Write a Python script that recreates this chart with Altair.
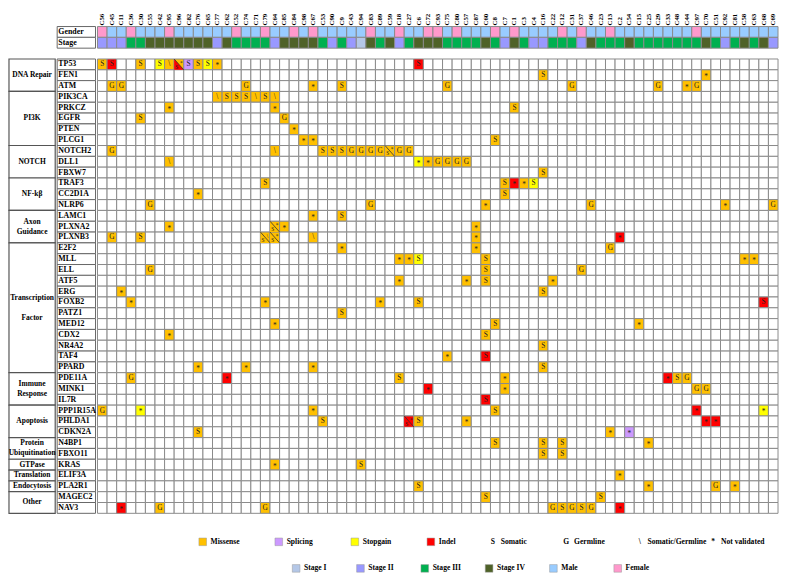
import altair as alt
import pandas as pd

SAMPLES = ["C56","C45","C11","C36","C30","C55","C42","C95","C96","C82","C76","C65","C77","C62","C52","C74","C71","C79",
           "C64","C85","C84","C98","C67","C53","C90","C9","C43","C94","C83","C89","C59","C18","C27","C6","C72","C93",
           "C75","C80","C57","C87","C60","C8","C7","C1","C3","C4","C16","C22","C12","C31","C37","C46","C23",
           "C13","C2","C54","C15","C25","C29","C33","C48","C44","C97","C70","C51","C92","C81","C58","C63","C68","C69"]

FEMALE_COLS = [1, 4, 8, 15, 18, 21, 23, 29, 32, 35, 36, 38, 42, 44, 49, 51, 54, 63]

STAGE = [2,2,2,3,3,4,4,4,4,4,4,4,2,4,3,3,3,3,
         2,4,4,4,4,3,2,3,2,1,4,3,4,2,3,4,4,4,
         3,3,3,3,4,3,2,4,3,2,2,3,3,3,2,4,3,
         3,3,4,3,3,3,3,3,3,3,4,3,2,3,4,3,4,2]

GENES = ["TP53","FEN1","ATM","PIK3CA","PRKCZ","EGFR","PTEN","PLCG1","NOTCH2","DLL1","FBXW7",
         "TRAF3","CC2D1A","NLRP6","LAMC1","PLXNA2","PLXNB3","E2F2","MLL","ELL","ATF5","ERG","FOXB2",
         "PATZ1","MED12","CDX2","NR4A2","TAF4","PPARD","PDE11A","MINK1","IL7R","PPP1R15A","PHLDA1",
         "CDKN2A","N4BP1","FBXO11","KRAS","ELIF3A","PLA2R1","MAGEC2","NAV3"]

PATHWAYS = [["DNA Repair"], ["PI3K"], ["NOTCH"], ["NF-kβ"], ["Axon", "Guidance"],
            ["Transcription", "", "Factor"], ["Immune", "Response"], ["Apoptosis"],
            ["Protein", "Ubiquitination"], ["GTPase"], ["Translation"], ["Endocytosis"], ["Other"]]
PATHWAY_SIZES = [3,5,3,3,3,12,3,3,2,1,1,1,2]

# gene -> [(column number, type, evidence)]
# type: M missense, P splicing, Y stopgain, I indel; "a/b" = split cell (lower-left / upper-right)
MUTATIONS = {
    "TP53": [(1,"M","S"),(2,"I","S"),(5,"M","S"),(7,"Y","S"),(8,"M","\\"),(9,"I/M","S/*"),(10,"P","S"),
             (11,"M","S"),(12,"Y","S"),(13,"M","*"),(34,"I","S")],
    "FEN1": [(47,"M","S"),(64,"M","*")],
    "ATM": [(2,"M","G"),(3,"M","G"),(16,"M","G"),(23,"M","*"),(26,"M","S"),(37,"M","G"),(50,"M","G"),
            (59,"M","G"),(62,"M","*"),(63,"M","G")],
    "PIK3CA": [(13,"M","\\"),(14,"M","S"),(15,"M","S"),(16,"M","S"),(17,"M","\\"),(18,"M","S"),(19,"M","\\")],
    "PRKCZ": [(8,"M","*"),(19,"M","*"),(44,"M","S")],
    "EGFR": [(5,"M","S"),(20,"M","G")],
    "PTEN": [(21,"M","*")],
    "PLCG1": [(22,"M","*"),(23,"M","*"),(42,"M","S")],
    "NOTCH2": [(2,"M","G"),(19,"M","\\"),(24,"M","S"),(25,"M","S"),(26,"M","S"),(27,"M","G"),(28,"M","G"),
               (29,"M","G"),(30,"M","G"),(31,"M/M","S/*"),(32,"M","G"),(33,"M","G")],
    "DLL1": [(8,"M","\\"),(34,"Y","*"),(35,"M","*"),(36,"M","G"),(37,"M","G"),(38,"M","G"),(39,"M","G")],
    "FBXW7": [(47,"M","S")],
    "TRAF3": [(18,"M","S"),(43,"M","S"),(44,"I","*"),(45,"M","*"),(46,"Y","S")],
    "CC2D1A": [(11,"M","*"),(43,"M","S")],
    "NLRP6": [(6,"M","G"),(29,"M","G"),(41,"M","*"),(52,"M","G"),(66,"M","*"),(71,"M","G")],
    "LAMC1": [(23,"M","*"),(26,"M","S")],
    "PLXNA2": [(8,"M","*"),(19,"M/M","S/*"),(20,"M","*"),(40,"M","*")],
    "PLXNB3": [(2,"M","G"),(5,"M","S"),(18,"M/M","S/\\"),(19,"M/M","S/*"),(23,"M","\\"),(40,"M","*"),(55,"I","*")],
    "E2F2": [(26,"M","*"),(40,"M","*"),(54,"M","G")],
    "MLL": [(32,"M","*"),(33,"M","*"),(34,"Y","S"),(41,"M","S"),(68,"M","*"),(69,"M","*")],
    "ELL": [(6,"M","G"),(41,"M","S"),(51,"M","G")],
    "ATF5": [(32,"M","*"),(39,"M","*"),(41,"M","S"),(48,"M","*")],
    "ERG": [(3,"M","*"),(47,"M","S")],
    "FOXB2": [(4,"M","*"),(18,"M","*"),(30,"M","*"),(34,"M","S"),(70,"I","S")],
    "PATZ1": [(26,"M","S")],
    "MED12": [(19,"M","*"),(42,"M","S"),(57,"M","*")],
    "CDX2": [(8,"M","*"),(41,"M","S")],
    "NR4A2": [(47,"M","S")],
    "TAF4": [(37,"M","*"),(41,"I","S")],
    "PPARD": [(11,"M","*"),(16,"M","*"),(23,"M","*"),(47,"M","S")],
    "PDE11A": [(4,"M","G"),(14,"I","*"),(32,"M","S"),(43,"M","*"),(60,"I","*"),(61,"M","S"),(62,"M","G")],
    "MINK1": [(35,"I","*"),(43,"M","*"),(63,"M","G"),(64,"M","G")],
    "IL7R": [(41,"I","S")],
    "PPP1R15A": [(1,"M","G"),(5,"Y","*"),(23,"M","*"),(42,"M","S"),(63,"I","*"),(70,"Y","*")],
    "PHLDA1": [(24,"M","S"),(33,"I/I","S/*"),(34,"M","S"),(39,"M","*"),(64,"I","*"),(65,"I","*")],
    "CDKN2A": [(11,"M","S"),(54,"M","*"),(56,"P","*")],
    "N4BP1": [(42,"M","S"),(47,"M","S"),(49,"M","S"),(58,"M","*")],
    "FBXO11": [(47,"M","S"),(49,"M","S")],
    "KRAS": [(19,"M","*"),(28,"M","S")],
    "ELIF3A": [(55,"M","*")],
    "PLA2R1": [(34,"M","S"),(58,"M","*"),(65,"M","G"),(67,"M","*")],
    "MAGEC2": [(41,"M","S"),(53,"M","S")],
    "NAV3": [(3,"I","*"),(7,"M","G"),(18,"M","G"),(48,"M","G"),(49,"M","S"),(50,"M","G"),(51,"M","S"),
             (52,"M","G"),(55,"I","*")],
}

LEGEND_TYPES = [("Missense", "M"), ("Splicing", "P"), ("Stopgain", "Y"), ("Indel", "I")]
LEGEND_GLYPHS = [("Somatic", "S"), ("Germline", "G"), ("Somatic/Germline", "\\"), ("Not validated", "*")]
LEGEND_ROW2 = ["Stage I", "Stage II", "Stage III", "Stage IV", "Male", "Female"]

# ---------------- styling ----------------
FONT = "Liberation Serif"
GRID = "#8a8a8a"
KIND_DOMAIN = ["blank", "M", "P", "Y", "I", "Male", "Female", "Stage I", "Stage II", "Stage III", "Stage IV"]
KIND_RANGE = ["#ffffff", "#FFC000", "#CC99FF", "#FFFF00", "#FF0000", "#99CCFF", "#FF99CC",
              "#B4C7E7", "#9999FF", "#00B050", "#4F6228"]
color_scale = alt.Scale(domain=KIND_DOMAIN, range=KIND_RANGE)

CAT_W, GENE_W, GRID_W = 47, 39, 692
TOTAL_W = CAT_W + GENE_W + GRID_W
ROW_H = 11.0
ROWS = ["Gender", "Stage", "gap"] + GENES
H = ROW_H * len(ROWS)
COL_W = GRID_W / len(SAMPLES)
ROMAN = ["I", "II", "III", "IV"]
YR = ROW_H / COL_W
LINE_STEP = 10.0 / ROW_H   # pathway label line spacing, in rows

# ---------------- data tables ----------------
cells = {}
for i, s in enumerate(SAMPLES):
    cells[(s, "Gender")] = "Female" if (i + 1) in FEMALE_COLS else "Male"
    cells[(s, "Stage")] = "Stage " + ROMAN[STAGE[i] - 1]
    for g in GENES:
        cells[(s, g)] = "blank"

texts, stars, splits, split_txt_lo, split_txt_hi = [], [], [], [], []
for g, items in MUTATIONS.items():
    for col, typ, ev in items:
        s = SAMPLES[col - 1]
        if "/" in typ:
            lo, hi = typ.split("/")
            elo, ehi = ev.split("/")
            cells[(s, g)] = hi
            splits.append(dict(sample=s, row=g, kind=lo))
            split_txt_lo.append(dict(sample=s, row=g, t=elo))
            split_txt_hi.append(dict(sample=s, row=g, t=ehi))
        else:
            cells[(s, g)] = typ
            if ev == "*":
                stars.append(dict(sample=s, row=g, t=ev))
            else:
                texts.append(dict(sample=s, row=g, t=ev))

cell_df = pd.DataFrame([dict(sample=k[0], row=k[1], kind=v) for k, v in cells.items()])

xs = alt.Scale(domain=SAMPLES, paddingInner=0, paddingOuter=0)
ys = alt.Scale(domain=ROWS, paddingInner=0, paddingOuter=0)
x_axis = alt.Axis(orient="top", labelAngle=-90, ticks=False, domain=False, labelPadding=1.5,
                  labelFont=FONT, labelFontSize=7, labelFontWeight="bold", labelColor="#000",
                  title=None, labelOverlap=False)
X = alt.X("sample:N", scale=xs, axis=x_axis, title=None)
Y = alt.Y("row:N", scale=ys, axis=None)

rects = alt.Chart(cell_df).mark_rect(stroke=GRID, strokeWidth=1).encode(
    x=X, y=Y, color=alt.Color("kind:N", scale=color_scale, legend=None))

split_df = pd.DataFrame(splits)
tri = alt.Chart(split_df).mark_point(
    shape=f"M -1 -{YR:.3f} L -1 {YR:.3f} L 1 {YR:.3f} Z", filled=True, opacity=1, size=COL_W ** 2,
    strokeWidth=0
).encode(x=X, y=Y, color=alt.Color("kind:N", scale=color_scale, legend=None))
diag = alt.Chart(split_df).mark_point(
    shape=f"M -1 -{YR:.3f} L 1 {YR:.3f}", filled=False, opacity=1, size=COL_W ** 2, stroke="#333",
    strokeWidth=0.8
).encode(x=X, y=Y)

txt = alt.Chart(pd.DataFrame(texts)).mark_text(
    font=FONT, fontSize=7.5, color="#222", baseline="middle").encode(x=X, y=Y, text="t:N")
star = alt.Chart(pd.DataFrame(stars)).mark_text(
    font=FONT, fontSize=7.5, color="#222", baseline="middle", dy=2).encode(x=X, y=Y, text="t:N")
stxt_lo = alt.Chart(pd.DataFrame(split_txt_lo)).mark_text(
    font=FONT, fontSize=5.5, color="#222", baseline="middle", dx=-2.2, dy=2.2).encode(x=X, y=Y, text="t:N")
stxt_hi = alt.Chart(pd.DataFrame(split_txt_hi)).mark_text(
    font=FONT, fontSize=5.5, color="#222", baseline="middle", dx=2.3, dy=-1.5).encode(x=X, y=Y, text="t:N")

grid = alt.layer(rects, tri, diag, txt, star, stxt_lo, stxt_hi).properties(width=GRID_W, height=H)

# ---------------- gene label column ----------------
gene_df = pd.DataFrame({"row": ["Gender", "Stage"] + GENES, "c": "a"})
gx = alt.X("c:N", scale=alt.Scale(paddingInner=0, paddingOuter=0), axis=None)
gene_rect = alt.Chart(gene_df).mark_rect(fill="white", stroke="#666", strokeWidth=1).encode(x=gx, y=Y)
gene_txt = alt.Chart(gene_df).mark_text(
    align="left", baseline="middle", dx=1.2, font=FONT, fontSize=8, fontWeight="bold", color="#000"
).encode(x=alt.X("c:N", scale=alt.Scale(paddingInner=0, paddingOuter=0), axis=None, bandPosition=0),
         y=Y, text="row:N")
gene_col = alt.layer(gene_rect, gene_txt).properties(width=GENE_W, height=H)

# ---------------- pathway column ----------------
group_rows, line_rows = [], []
pos = 3
for lines, n in zip(PATHWAYS, PATHWAY_SIZES):
    mid = pos + n / 2
    group_rows.append(dict(start=pos, end=pos + n, c="a"))
    k = len(lines)
    for j, line in enumerate(lines):
        if line:
            line_rows.append(dict(label=line, y=mid + (j - (k - 1) / 2) * LINE_STEP, c="a"))
    pos += n
qy = alt.Scale(domain=[0, len(ROWS)], reverse=True, nice=False, zero=False)
cat_rect = alt.Chart(pd.DataFrame(group_rows)).mark_rect(fill="white", stroke="#555", strokeWidth=1.2).encode(
    x=gx, y=alt.Y("start:Q", scale=qy, axis=None), y2="end:Q")
cat_txt = alt.Chart(pd.DataFrame(line_rows)).mark_text(
    font=FONT, fontSize=7.6, fontWeight="bold", color="#000", baseline="middle", align="center"
).encode(x=alt.X("c:N", scale=alt.Scale(paddingInner=0, paddingOuter=0), axis=None),
         y=alt.Y("y:Q", scale=qy, axis=None), text="label:N")
cat_col = alt.layer(cat_rect, cat_txt).properties(width=CAT_W, height=H)

main = alt.hconcat(cat_col, gene_col, grid, spacing=0)

# ---------------- legend ----------------
LFS = 7.7
ta = pd.DataFrame({"item": [a for a, b in LEGEND_TYPES], "kind": [b for a, b in LEGEND_TYPES]})
tx = alt.X("item:N", scale=alt.Scale(domain=list(ta["item"]), range=[197, 429], padding=0), axis=None)
t_sq = alt.Chart(ta).mark_square(size=60, opacity=1, stroke="#999", strokeWidth=0.5).encode(
    x=tx, color=alt.Color("kind:N", scale=color_scale, legend=None))
t_tx = alt.Chart(ta).mark_text(font=FONT, fontSize=LFS, fontWeight="bold", color="#000",
                               align="left", baseline="middle", dx=8).encode(x=tx, text="item:N")
ga = pd.DataFrame({"item": [a for a, b in LEGEND_GLYPHS], "glyph": [b for a, b in LEGEND_GLYPHS]})
gxl = alt.X("item:N", scale=alt.Scale(domain=list(ga["item"]), range=[492, 716], padding=0), axis=None)
g_gl = alt.Chart(ga).mark_text(font=FONT, fontSize=LFS, fontWeight="bold", color="#000",
                               baseline="middle").encode(x=gxl, text="glyph:N")
g_tx = alt.Chart(ga).mark_text(font=FONT, fontSize=LFS, fontWeight="bold", color="#000",
                               align="left", baseline="middle", dx=8).encode(x=gxl, text="item:N")
leg1 = alt.layer(alt.layer(t_sq, t_tx), alt.layer(g_gl, g_tx)).resolve_scale(x="independent").properties(
    width=TOTAL_W, height=20)

l2 = pd.DataFrame({"item": LEGEND_ROW2, "kind": LEGEND_ROW2})
l2x = alt.X("item:N", scale=alt.Scale(domain=LEGEND_ROW2, range=[292, 619], padding=0), axis=None)
l2_sq = alt.Chart(l2).mark_square(size=60, opacity=1, stroke="#999", strokeWidth=0.5).encode(
    x=l2x, color=alt.Color("kind:N", scale=color_scale, legend=None))
l2_tx = alt.Chart(l2).mark_text(font=FONT, fontSize=LFS, fontWeight="bold", color="#000",
                                align="left", baseline="middle", dx=8).encode(x=l2x, text="item:N")
leg2 = alt.layer(l2_sq, l2_tx).properties(width=TOTAL_W, height=20)

legend = alt.vconcat(leg1, leg2, spacing=7)
chart = alt.vconcat(main, legend, spacing=18).properties(padding=0).configure_view(stroke=None)
chart.save("out.html", embed_options={"renderer": "svg", "actions": False})
